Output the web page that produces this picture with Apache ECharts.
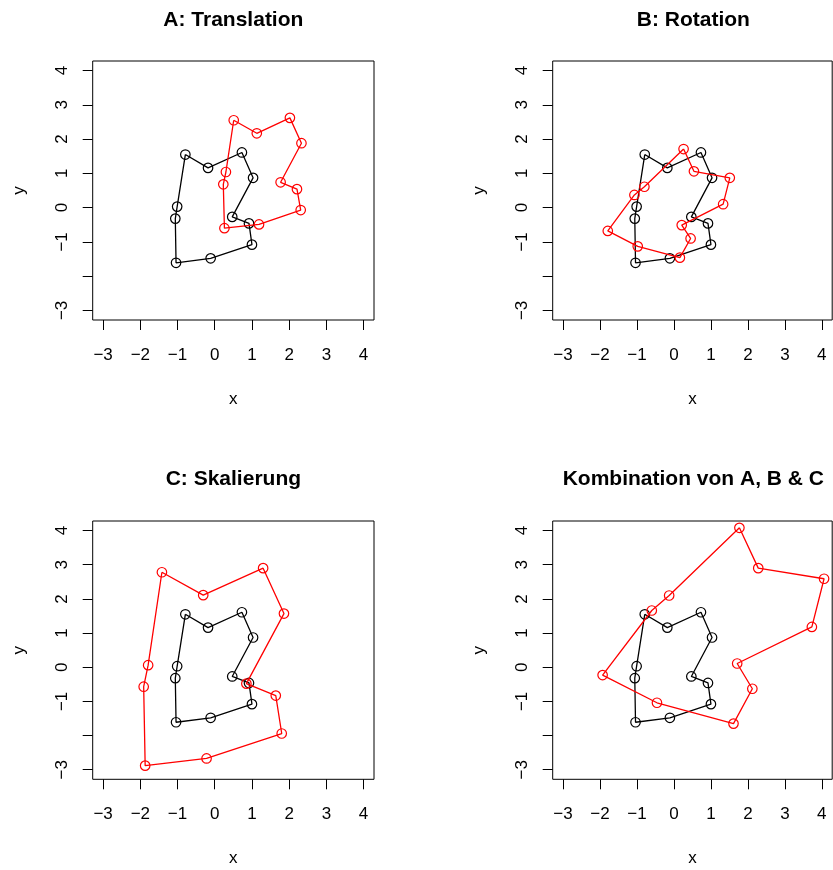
<!DOCTYPE html>
<html>
<head>
<meta charset="utf-8">
<script src="https://cdn.jsdelivr.net/npm/echarts@6/dist/echarts.min.js"></script>
<style>
html,body{margin:0;padding:0;background:#fff;}
#chart{width:833px;height:870px;}
</style>
</head>
<body>
<div id="chart"></div>
<script>
// Original shape (black)
const origX = [-0.79, -0.18, 0.73, 1.03, 0.47, 0.92, 1.00, -0.11, -1.04, -1.06, -1.01];
const origY = [1.55, 1.16, 1.61, 0.87, -0.27, -0.46, -1.08, -1.48, -1.61, -0.32, 0.03];
// A: Translation (red)
const transX = [0.51, 1.13, 2.02, 2.33, 1.77, 2.21, 2.31, 1.19, 0.26, 0.23, 0.30];
const transY = [2.55, 2.17, 2.62, 1.88, 0.74, 0.54, -0.07, -0.49, -0.60, 0.68, 1.04];
// B: Rotation (red)
const rotX = [0.26, 0.54, 1.51, 1.33, 0.21, 0.45, 0.16, -0.98, -1.79, -1.07, -0.80];
const rotY = [1.71, 1.06, 0.87, 0.10, -0.51, -0.90, -1.46, -1.13, -0.68, 0.37, 0.61];
// C: Skalierung (red)
const scaleX = [-1.42, -0.31, 1.30, 1.86, 0.85, 1.64, 1.80, -0.22, -1.87, -1.91, -1.79];
const scaleY = [2.78, 2.11, 2.90, 1.57, -0.48, -0.83, -1.94, -2.67, -2.88, -0.57, 0.06];
// Kombination (red)
const combX = [1.77, 2.28, 4.06, 3.73, 1.71, 2.12, 1.61, -0.46, -1.93, -0.60, -0.13];
const combY = [4.08, 2.90, 2.59, 1.18, 0.11, -0.63, -1.65, -1.04, -0.23, 1.66, 2.10];

const titles = ['A: Translation', 'B: Rotation', 'C: Skalierung', 'Kombination von A, B & C'];
const xTicks = [-3, -2, -1, 0, 1, 2, 3, 4];
const yTicks = [-3, -2, -1, 0, 1, 2, 3, 4];
const yTickLabels = [-3, -1, 0, 1, 2, 3, 4];
const axisMin = -3.28, axisMax = 4.28;

const redSets = [[transX, transY], [rotX, rotY], [scaleX, scaleY], [combX, combY]];

function closed(xs, ys) {
  const d = xs.map((x, i) => [x, ys[i]]);
  d.push({value: [xs[0], ys[0]], symbol: 'none'});
  return d;
}

const FONT = 'Liberation Sans, Arial, Helvetica, sans-serif';
const fmt = v => String(v).replace('-', '\u2212');

const grids = [
  {left: 92.7, top: 61, width: 281.3, height: 259},
  {left: 552.7, top: 61, width: 279.5, height: 259},
  {left: 92.7, top: 521, width: 281.3, height: 258.3},
  {left: 552.7, top: 521, width: 279.5, height: 258.3}
];

const option = {
  animation: false,
  backgroundColor: '#fff',
  title: grids.map((g, i) => ({
    text: titles[i],
    left: g.left + g.width / 2 + (i % 2 === 1 ? 0.9 : 0),
    top: i < 2 ? 10 : 469,
    textAlign: 'center',
    padding: 0,
    textStyle: {fontFamily: FONT, fontSize: 21, fontWeight: 'bold', color: '#000'}
  })),
  grid: grids.map(g => Object.assign({show: true, borderColor: '#000', borderWidth: 1, backgroundColor: 'transparent'}, g)),
  xAxis: grids.map((g, i) => ({
    type: 'value', gridIndex: i, min: axisMin, max: axisMax, position: 'bottom',
    name: 'x', nameLocation: 'middle', nameGap: 71,
    nameTextStyle: {fontFamily: FONT, fontSize: 17, color: '#000'},
    axisLine: {show: false, onZero: false},
    splitLine: {show: false},
    axisTick: {show: true, inside: false, length: 10, customValues: xTicks, lineStyle: {color: '#000', width: 1}},
    axisLabel: {show: true, customValues: xTicks, margin: 27, formatter: fmt, fontFamily: FONT, fontSize: 17, color: '#000'}
  })),
  yAxis: grids.map((g, i) => ({
    type: 'value', gridIndex: i, min: axisMin, max: axisMax, position: 'left',
    name: 'y', nameLocation: 'middle', nameGap: 65, nameRotate: 90,
    nameTextStyle: {fontFamily: FONT, fontSize: 17, color: '#000'},
    axisLine: {show: false, onZero: false},
    splitLine: {show: false},
    axisTick: {show: true, inside: false, length: 10, customValues: yTicks, lineStyle: {color: '#000', width: 1}},
    axisLabel: {show: true, customValues: yTickLabels, rotate: 90, margin: 22, formatter: fmt, fontFamily: FONT, fontSize: 17, color: '#000'}
  })),
  series: []
};

for (let i = 0; i < 4; i++) {
  option.series.push({
    type: 'line', xAxisIndex: i, yAxisIndex: i,
    data: closed(origX, origY),
    symbol: 'circle', symbolSize: 9.5,
    lineStyle: {color: '#000', width: 1.3},
    itemStyle: {color: 'rgba(0,0,0,0)', borderColor: '#000', borderWidth: 1.2},
    emphasis: {disabled: true}, silent: true, z: 2
  });
  option.series.push({
    type: 'line', xAxisIndex: i, yAxisIndex: i,
    data: closed(redSets[i][0], redSets[i][1]),
    symbol: 'circle', symbolSize: 9.5,
    lineStyle: {color: '#ff0000', width: 1.3},
    itemStyle: {color: 'rgba(0,0,0,0)', borderColor: '#ff0000', borderWidth: 1.2},
    emphasis: {disabled: true}, silent: true, z: 3
  });
}

const chart = echarts.init(document.getElementById('chart'), null, {renderer: 'canvas'});
chart.setOption(option);
</script>
</body>
</html>
